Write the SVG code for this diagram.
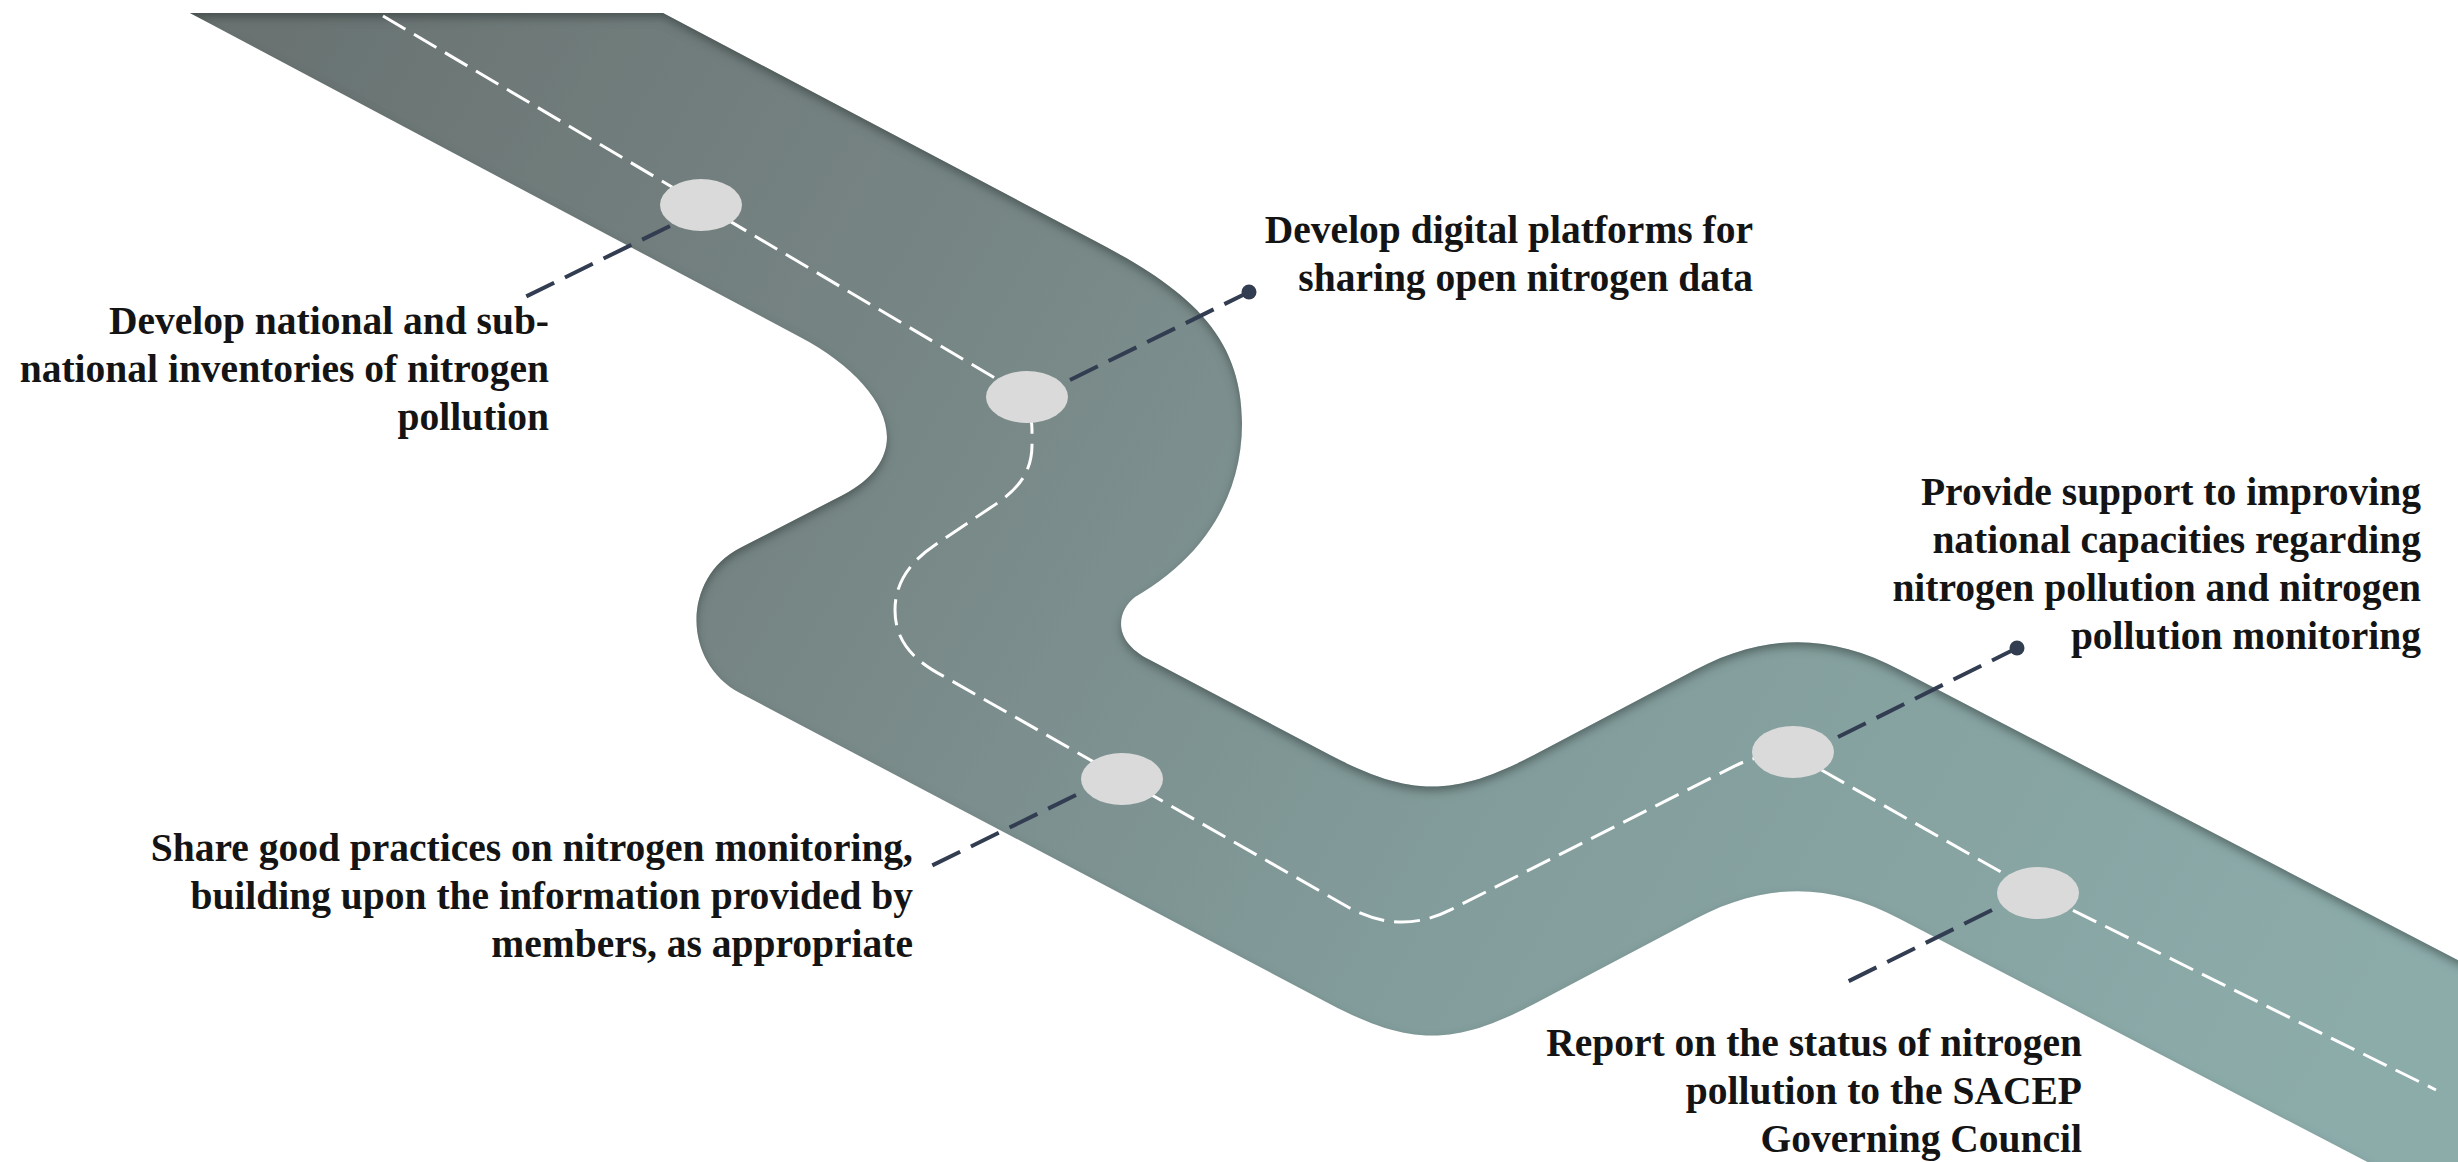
<svg xmlns="http://www.w3.org/2000/svg" width="2458" height="1162" viewBox="0 0 2458 1162">
<style>
  .label { font-family: "Liberation Serif", "Times New Roman", serif; font-weight: bold; font-size: 39.5px; fill: #141414; text-anchor: end; }
  .node { fill: #dadada; }
  .conn { fill: none; stroke: #323d52; stroke-width: 4; stroke-dasharray: 31 12; }
  .dot { fill: #323d52; }
  .centerline { fill: none; stroke: #ffffff; stroke-width: 3; stroke-dasharray: 26 10; }
</style>
<defs>
  <linearGradient id="roadGrad" gradientUnits="userSpaceOnUse" x1="300" y1="0" x2="2300" y2="1162">
    <stop offset="0" stop-color="#6a7372"/>
    <stop offset="0.37" stop-color="#798a89"/>
    <stop offset="0.61" stop-color="#829c9b"/>
    <stop offset="1" stop-color="#8cacaa"/>
  </linearGradient>
  <filter id="innerShadow" x="-5%" y="-5%" width="110%" height="110%">
    <feComponentTransfer in="SourceAlpha" result="inv">
      <feFuncA type="table" tableValues="1 0"/>
    </feComponentTransfer>
    <feOffset in="inv" dx="0" dy="5" result="off"/>
    <feGaussianBlur in="off" stdDeviation="5" result="blur"/>
    <feFlood flood-color="#2e3836" flood-opacity="0.7"/>
    <feComposite in2="blur" operator="in" result="shadow"/>
    <feComposite in="shadow" in2="SourceAlpha" operator="in" result="inner"/>
    <feMerge>
      <feMergeNode in="SourceGraphic"/>
      <feMergeNode in="inner"/>
    </feMerge>
  </filter>
</defs>
<rect width="2458" height="1162" fill="#ffffff"/>
<g id="road">
  <path filter="url(#innerShadow)" fill="url(#roadGrad)" d="M 190 13 L 663 13 L 1095 241 C 1185 288 1242 333 1242 423 C 1242 500 1200 560 1135 597 C 1118 610 1110 640 1150 660 L 1330 755 C 1410 797 1454 797 1534 755 L 1695 670 C 1765 633 1830 633 1900 670 L 2700 1086 L 2700 1300 L 2633 1300 L 1900 919 C 1830 882 1765 882 1695 919 L 1534 1004 C 1454 1046 1410 1046 1330 1004 L 740 693 C 682 662 682 578 740 548 L 843 495 C 923 453 885 382 800 337 Z"/>
  <path class="centerline" d="M 383 16 L 1000 381 Q 1032 400 1032 430 L 1032 445 C 1032 475 1015 492 990 508 L 935 545 C 908 563 895 585 895 610 C 895 640 912 660 945 677 L 1347 906.5 Q 1399 936 1451 909.6 L 1735 765.9 Q 1775 745.6 1815 766.4 L 2038 893 L 2436 1090"/>
</g>
<g id="connectors">
  <path class="conn" d="M 670 226 L 523 298"/>
  <path class="conn" d="M 1070 380 L 1249 292"/>
  <circle class="dot" cx="1249" cy="292" r="7.5"/>
  <path class="conn" d="M 1076 795 L 929 867"/>
  <path class="conn" d="M 1838 737 L 2017 648"/>
  <circle class="dot" cx="2017" cy="648" r="7.5"/>
  <path class="conn" d="M 1992 910 L 1845 983"/>
</g>
<g id="node-1">
  <ellipse class="node" cx="701" cy="205" rx="41" ry="26"/>
  <text class="label" x="549" y="334">Develop national and sub-</text>
  <text class="label" x="549" y="382">national inventories of nitrogen</text>
  <text class="label" x="549" y="430">pollution</text>
</g>
<g id="node-2">
  <ellipse class="node" cx="1027" cy="397" rx="41" ry="26"/>
  <text class="label" x="1753" y="243">Develop digital platforms for</text>
  <text class="label" x="1753" y="291">sharing open nitrogen data</text>
</g>
<g id="node-3">
  <ellipse class="node" cx="1122" cy="779" rx="41" ry="26"/>
  <text class="label" x="913" y="861">Share good practices on nitrogen monitoring,</text>
  <text class="label" x="913" y="909">building upon the information provided by</text>
  <text class="label" x="913" y="957">members, as appropriate</text>
</g>
<g id="node-4">
  <ellipse class="node" cx="1793" cy="752" rx="41" ry="26"/>
  <text class="label" x="2421" y="505">Provide support to improving</text>
  <text class="label" x="2421" y="553">national capacities regarding</text>
  <text class="label" x="2421" y="601">nitrogen pollution and nitrogen</text>
  <text class="label" x="2421" y="649">pollution monitoring</text>
</g>
<g id="node-5">
  <ellipse class="node" cx="2038" cy="893" rx="41" ry="26"/>
  <text class="label" x="2082" y="1056">Report on the status of nitrogen</text>
  <text class="label" x="2082" y="1104">pollution to the SACEP</text>
  <text class="label" x="2082" y="1152">Governing Council</text>
</g>
</svg>
